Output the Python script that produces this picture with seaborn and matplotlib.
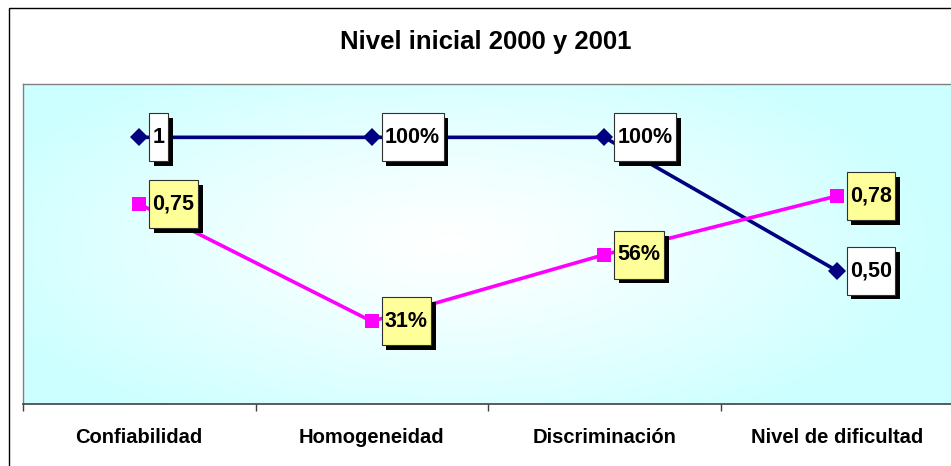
import numpy as np
import pandas as pd
import matplotlib
matplotlib.use("Agg")
import matplotlib.pyplot as plt
import seaborn as sns
from matplotlib.path import Path
from matplotlib.patches import Rectangle
import matplotlib.patheffects as pe

# ---------------- data ----------------
categories = ["Confiabilidad", "Homogeneidad", "Discriminación", "Nivel de dificultad"]
serie_a = [1.00, 1.00, 1.00, 0.50]
serie_b = [0.75, 0.31, 0.56, 0.78]
labels_a = ["1", "100%", "100%", "0,50"]
labels_b = ["0,75", "31%", "56%", "0,78"]
title = "Nivel inicial 2000 y 2001"

sns.set_theme(style="white")
plt.rcParams["font.family"] = ["Liberation Sans", "DejaVu Sans"]
plt.rcParams["text.color"] = "black"
plt.rcParams["xtick.color"] = "black"

fig = plt.figure(figsize=(9.51, 4.66), dpi=100)
fig.patch.set_facecolor("white")

# outer chart border
fig.add_artist(Rectangle((9 / 951, -0.1), 1.2, 1 - 8 / 466 + 0.1,
                         transform=fig.transFigure, fill=False,
                         edgecolor="black", lw=1.0, zorder=0))

ax = fig.add_axes([23 / 951, 62 / 466, 930 / 951, 320 / 466])

# gradient background (white centre -> pale cyan edges)
nx, ny = 400, 200
xx, yy = np.meshgrid(np.linspace(0, 1, nx), np.linspace(0, 1, ny))
t = np.sqrt(((xx - 0.46) / 0.62) ** 2 + ((yy - 0.50) / 0.75) ** 2)
t = np.clip(t * 1.15, 0, 1) ** 1.2
white = np.array([1.0, 1.0, 1.0])
cyan = np.array([204, 255, 255]) / 255
img = white[None, None, :] * (1 - t[..., None]) + cyan[None, None, :] * t[..., None]
ax.imshow(img, extent=[-0.5, 3.5, 0, 1.2], aspect="auto", origin="lower", zorder=0)

df_a = pd.DataFrame({"cat": categories, "val": serie_a})
df_b = pd.DataFrame({"cat": categories, "val": serie_b})

sns.lineplot(data=df_a, x="cat", y="val", ax=ax, color="#000080", lw=2.6,
             marker="D", markersize=9, markeredgewidth=0, sort=False, zorder=3)
sns.lineplot(data=df_b, x="cat", y="val", ax=ax, color="#FF00FF", lw=2.6,
             marker="s", markersize=10, markeredgewidth=0, sort=False, zorder=3)


def tall_box(x0, y0, width, height, mutation_size):
    px = 0.16 * mutation_size
    py = 0.62 * mutation_size
    x0, y0 = x0 - px, y0 - py
    x1, y1 = x0 + width + 2 * px, y0 + height + 2 * py
    return Path([(x0, y0), (x1, y0), (x1, y1), (x0, y1), (x0, y0)],
                [Path.MOVETO, Path.LINETO, Path.LINETO, Path.LINETO, Path.CLOSEPOLY])


def add_labels(values, labels, face):
    for i, (v, lab) in enumerate(zip(values, labels)):
        txt = ax.annotate(lab, xy=(i, v), xytext=(9.5, 0), textcoords="offset points",
                          ha="left", va="center", fontsize=15.5, fontweight="bold",
                          color="black", zorder=5,
                          bbox=dict(boxstyle=tall_box, facecolor=face,
                                    edgecolor="#303030", lw=0.8))
        txt.get_bbox_patch().set_path_effects(
            [pe.SimplePatchShadow(offset=(3.5, -3.5), shadow_rgbFace="black", alpha=1.0),
             pe.Normal()])


add_labels(serie_a, labels_a, "white")
add_labels(serie_b, labels_b, "#FFFF99")

ax.set_xlim(-0.5, 3.5)
ax.set_ylim(0, 1.2)
ax.set_yticks([])
ax.set_xlabel("")
ax.set_ylabel("")

ax.set_xticks([-0.5, 0.5, 1.5, 2.5, 3.5])
ax.set_xticklabels([])
ax.set_xticks(range(len(categories)), minor=True)
ax.set_xticklabels(categories, minor=True, fontsize=14.5, fontweight="bold",
                   color="black")
ax.tick_params(axis="x", which="major", direction="out", length=5, width=1,
               color="#404040", bottom=True)
ax.tick_params(axis="x", which="minor", length=0, pad=17)

for side in ["top", "left", "right"]:
    ax.spines[side].set_color("#808080")
    ax.spines[side].set_linewidth(1.0)
ax.spines["bottom"].set_color("#404040")
ax.spines["bottom"].set_linewidth(1.2)

fig.text(486 / 951, 1 - 42 / 466, title, ha="center", va="center",
         fontsize=18.5, fontweight="bold", color="black")

fig.savefig("out.png", dpi=100)
